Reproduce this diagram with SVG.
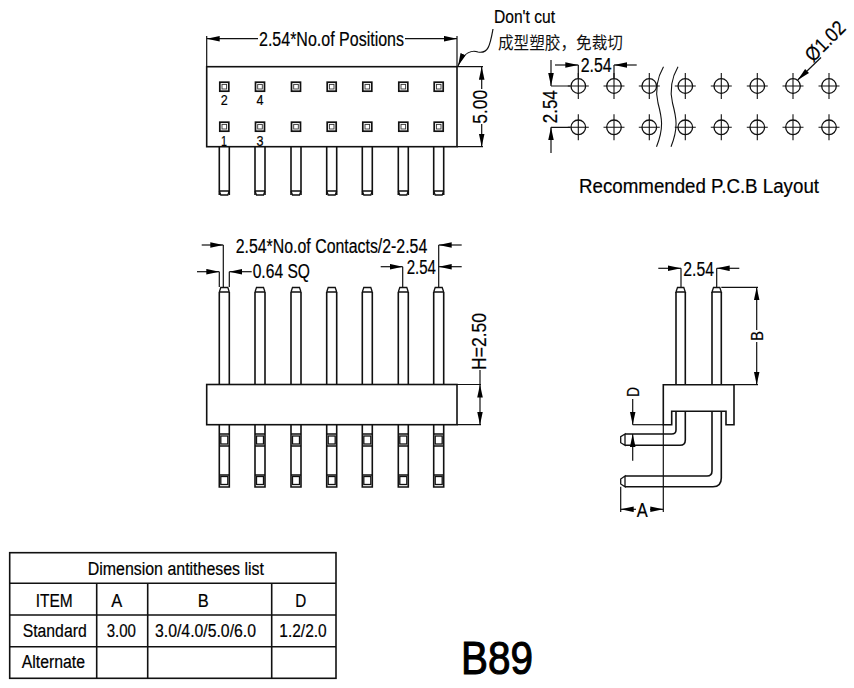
<svg xmlns="http://www.w3.org/2000/svg" width="854" height="688" viewBox="0 0 854 688">
<style>
.l{fill:none;stroke:#111;stroke-width:1.3}
.f{fill:none;stroke:#111;stroke-width:1.6}
.d{fill:none;stroke:#111;stroke-width:1.2}
.a{marker-end:url(#arr)}
.s{fill:none;stroke:#111;stroke-width:1.1}
.t{fill:#000;stroke:#000;stroke-width:.2;font-family:"Liberation Sans",Arial,sans-serif}
.z16{font-size:18px}.z18{font-size:20px}.z20{font-size:20px}
.m{text-anchor:middle}
</style>
<defs>
<marker id="arr" markerUnits="userSpaceOnUse" markerWidth="14" markerHeight="7" refX="13" refY="3" orient="auto"><path d="M0 0.2L13 3L0 5.800Z" fill="#000"/></marker>
<g id="pinTop"><path class="f" d="M-5 195V147M5 195V147"/><path class="l" d="M-5 191L-3.500 195H3.500L5 191M-5 191H5"/></g>
<g id="sq"><rect x="-4.500" y="-4.500" width="9" height="9" fill="#fff" stroke="#111" stroke-width="1.700"/><rect x="-2.300" y="-2.300" width="4.600" height="4.600" fill="#fff" stroke="#333" stroke-width="0.900"/></g>
<g id="pinUp"><path class="f" d="M-5 384V292M5 384V292"/><path class="l" d="M-5 292L-3.500 287.500H3.500L5 292M-5 292H5"/></g>
<g id="pinLow"><path class="f" d="M-5 425V487H5V425"/><path class="l" d="M-5 434H5M-5 446H5M-5 475H5"/><rect x="-3.500" y="436" width="7" height="8" fill="#fff" stroke="#111" stroke-width="1.300"/><rect x="-3.500" y="476.500" width="7" height="8" fill="#fff" stroke="#111" stroke-width="1.300"/></g>
<g id="hole"><circle r="7.300" fill="none" stroke="#111" stroke-width="1.300"/><path class="s" d="M-10.500 0H10.500M0 -13V13"/></g>
</defs>
<rect width="854" height="688" fill="#fff"/>

<g id="top-view">
<rect class="f" x="206.700" y="66.700" width="250.300" height="80"/>
<use href="#sq" x="224.300" y="86.700"/><use href="#sq" x="260" y="86.700"/><use href="#sq" x="296" y="86.700"/><use href="#sq" x="331.700" y="86.700"/><use href="#sq" x="367.300" y="86.700"/><use href="#sq" x="403.300" y="86.700"/><use href="#sq" x="438.700" y="86.700"/>
<use href="#sq" x="224.300" y="126.700"/><use href="#sq" x="260" y="126.700"/><use href="#sq" x="296" y="126.700"/><use href="#sq" x="331.700" y="126.700"/><use href="#sq" x="367.300" y="126.700"/><use href="#sq" x="403.300" y="126.700"/><use href="#sq" x="438.700" y="126.700"/>
<use href="#pinTop" x="224.300"/><use href="#pinTop" x="260"/><use href="#pinTop" x="296"/><use href="#pinTop" x="331.700"/><use href="#pinTop" x="367.300"/><use href="#pinTop" x="403.300"/><use href="#pinTop" x="438.700"/>
<text class="t m" x="224.300" y="105" font-size="15" textLength="7" lengthAdjust="spacingAndGlyphs">2</text>
<text class="t m" x="260" y="105" font-size="15" textLength="7" lengthAdjust="spacingAndGlyphs">4</text>
<text class="t m" x="224" y="146" font-size="15" textLength="6" lengthAdjust="spacingAndGlyphs">1</text>
<text class="t m" x="260" y="146" font-size="15" textLength="7" lengthAdjust="spacingAndGlyphs">3</text>
</g>

<g id="front-view">
<use href="#pinUp" x="224.300"/><use href="#pinUp" x="260"/><use href="#pinUp" x="296"/><use href="#pinUp" x="331.700"/><use href="#pinUp" x="367.300"/><use href="#pinUp" x="403.300"/><use href="#pinUp" x="438.700"/>
<use href="#pinLow" x="224.300"/><use href="#pinLow" x="260"/><use href="#pinLow" x="296"/><use href="#pinLow" x="331.700"/><use href="#pinLow" x="367.300"/><use href="#pinLow" x="403.300"/><use href="#pinLow" x="438.700"/>
<rect class="f" x="206.700" y="384.500" width="250.300" height="40.200"/>
</g>

<g id="side-view">
<path class="f" d="M676 384.700V292M685.300 384.700V292M712 384.700V292M721.300 384.700V292"/>
<path class="l" d="M676 292L677.500 287.500H683.800L685.300 292ZM712 292L713.500 287.500H719.800L721.300 292Z"/>
<path class="f" d="M663.300 424.700V384.700H734V424.700H726V411.300H671.700V424.700Z"/>
<path class="f" d="M676 411.300V430Q676 434 671.700 434H625M685.300 411.300V440Q685.300 445.300 680 445.300H625"/>
<path class="f" d="M712 411.300V471Q712 476 707 476H625M721.300 411.300V478Q721.300 486.700 713 486.700H625"/>
<path class="l" d="M625 434L620.700 436.700V442.700L625 445.300ZM625 476L620.700 479V484L625 486.700Z"/>
</g>

<g id="connectors">
<path class="d a" d="M258 38.700H206.700"/><path class="d a" d="M405 38.700H457"/>
<path class="d" d="M206.700 36V66M457 36V66"/>
<path class="d a" d="M493 29C490 46 488 54 478 52C472 50 464 52 458 66"/>
<path class="d" d="M457 66.700H483M457 146.700H483"/>
<path class="d a" d="M481.700 89V66.700"/><path class="d a" d="M481.700 124V146.700"/>

<path class="d a" d="M555 65H578.300"/><path class="d a" d="M636.700 65H614"/>
<path class="d" d="M578.300 65V78M614 65V78"/>
<path class="d a" d="M551 60V86"/><path class="d a" d="M551 153V127.300"/>
<path class="d" d="M551 86H570M551 127.300H570"/>
<path class="d a" d="M821 57.500L797.700 80"/>
<path class="s" d="M663.500 66.700C657 78 655 90 658 103C662 118 664 128 656.500 146.700"/>
<path class="s" d="M678 66.700C671.500 78 669.500 90 672.500 103C676.500 118 678.500 128 671 146.700"/>

<path class="d a" d="M201.700 245H223.300"/><path class="d" d="M223.300 245V287"/>
<path class="d a" d="M461.700 245H438.700"/><path class="d" d="M438.700 245V287"/>
<path class="d a" d="M197 271.700H219.300"/><path class="d a" d="M251.700 271.700H229.300"/><path class="d" d="M219.300 271.700V287M229.300 271.700V287"/>
<path class="d a" d="M380.700 266.700H402.700"/><path class="d a" d="M461.700 266.700H438.700"/><path class="d" d="M402.700 266.700V287"/>
<path class="d" d="M457 384.500H481M457 424.700H481"/>
<path class="d" d="M480 370V384.500"/>
<path class="d a" d="M480 404V384.500"/><path class="d a" d="M480 404V424.700"/>

<path class="d a" d="M658.300 268.300H681"/><path class="d a" d="M739.300 268.300H716.700"/><path class="d" d="M681 268.300V287M716.700 268.300V287"/>
<path class="d" d="M721.300 287.300H758M734 384.700H758"/>
<path class="d a" d="M756.700 330V287.300"/><path class="d a" d="M756.700 342V384.700"/>
<path class="d" d="M632.700 424.700H663.300"/>
<path class="d a" d="M632.700 399V424.700"/><path class="d a" d="M632.700 460.700V434"/>
<path class="d" d="M663.300 424.700V512M620.700 486.700V512"/>
<path class="d a" d="M636 509.300H620.700"/><path class="d a" d="M650 509.300H663.300"/>
</g>

<g id="holes">
<use href="#hole" x="578.300" y="86"/><use href="#hole" x="614" y="86"/><use href="#hole" x="649.300" y="86"/><use href="#hole" x="685.300" y="86"/><use href="#hole" x="721.300" y="86"/><use href="#hole" x="757.300" y="86"/><use href="#hole" x="793" y="86"/><use href="#hole" x="829" y="86"/>
<use href="#hole" x="578.300" y="127.300"/><use href="#hole" x="614" y="127.300"/><use href="#hole" x="649.300" y="127.300"/><use href="#hole" x="685.300" y="127.300"/><use href="#hole" x="721.300" y="127.300"/><use href="#hole" x="757.300" y="127.300"/><use href="#hole" x="793" y="127.300"/><use href="#hole" x="829" y="127.300"/>
</g>

<g id="labels">
<text class="t z18" x="259" y="45.500" textLength="145" lengthAdjust="spacingAndGlyphs">2.54*No.of Positions</text>
<text class="t" font-size="19" x="494" y="22.500" textLength="61" lengthAdjust="spacingAndGlyphs">Don't cut</text>
<text x="498" y="49" font-size="17" textLength="125" lengthAdjust="spacingAndGlyphs" fill="#111" font-family="'Noto Sans CJK SC',sans-serif">成型塑胶，免裁切</text>
<text class="t z20 m" transform="translate(487 106.700) rotate(-90)" textLength="34" lengthAdjust="spacingAndGlyphs">5.00</text>
<text class="t z20" x="580.700" y="71.700" textLength="31" lengthAdjust="spacingAndGlyphs">2.54</text>
<text class="t z20 m" transform="translate(556.500 106.700) rotate(-90)" textLength="33" lengthAdjust="spacingAndGlyphs">2.54</text>
<text class="t z18 m" transform="translate(830 46) rotate(-45)" textLength="48" lengthAdjust="spacingAndGlyphs">Ø1.02</text>
<text class="t z20" font-size="21" x="579" y="192.700" textLength="240" lengthAdjust="spacingAndGlyphs">Recommended P.C.B Layout</text>
<text class="t z18" x="235.700" y="252.700" textLength="191.600" lengthAdjust="spacingAndGlyphs">2.54*No.of Contacts/2-2.54</text>
<text class="t z18" x="252.700" y="278.300" textLength="57.300" lengthAdjust="spacingAndGlyphs">0.64 SQ</text>
<text class="t z18" x="406.700" y="274.300" textLength="29.300" lengthAdjust="spacingAndGlyphs">2.54</text>
<text class="t z18 m" transform="translate(486 341.500) rotate(-90)" textLength="57" lengthAdjust="spacingAndGlyphs">H=2.50</text>
<text class="t z18" x="683.300" y="275.700" textLength="30.700" lengthAdjust="spacingAndGlyphs">2.54</text>
<text class="t m" font-size="17" transform="translate(762.700 336) rotate(-90)" textLength="10" lengthAdjust="spacingAndGlyphs">B</text>
<text class="t m" font-size="17" transform="translate(639.300 392) rotate(-90)" textLength="10" lengthAdjust="spacingAndGlyphs">D</text>
<text class="t z18 m" x="642.200" y="516.500" textLength="11" lengthAdjust="spacingAndGlyphs">A</text>
<text class="t m" x="497" y="674" font-size="47" textLength="72" lengthAdjust="spacingAndGlyphs" style="stroke-width:1.100">B89</text>
</g>

<g id="table">
<rect class="f" x="9.700" y="552.700" width="326.300" height="125.600"/>
<path class="f" d="M9.700 583.300H336M9.700 615H336M9.700 646.700H336M96.700 583.300V678.300M147.700 583.300V678.300M271.700 583.300V678.300"/>
<text class="t z16" x="87.700" y="575" textLength="176.300" lengthAdjust="spacingAndGlyphs">Dimension antitheses list</text>
<text class="t z16" x="35.700" y="606.700" textLength="37" lengthAdjust="spacingAndGlyphs">ITEM</text>
<text class="t z16 m" x="116.700" y="606.700" textLength="11" lengthAdjust="spacingAndGlyphs">A</text>
<text class="t z16 m" x="203.300" y="606.700" textLength="11" lengthAdjust="spacingAndGlyphs">B</text>
<text class="t z16 m" x="300.700" y="606.700" textLength="11" lengthAdjust="spacingAndGlyphs">D</text>
<text class="t z16" x="22.700" y="637" textLength="64" lengthAdjust="spacingAndGlyphs">Standard</text>
<text class="t z16" x="106.700" y="637" textLength="29.300" lengthAdjust="spacingAndGlyphs">3.00</text>
<text class="t z16" x="155" y="637" textLength="101" lengthAdjust="spacingAndGlyphs">3.0/4.0/5.0/6.0</text>
<text class="t z16" x="279.300" y="637" textLength="47.400" lengthAdjust="spacingAndGlyphs">1.2/2.0</text>
<text class="t z16" x="21.700" y="668.300" textLength="63.300" lengthAdjust="spacingAndGlyphs">Alternate</text>
</g>
</svg>
